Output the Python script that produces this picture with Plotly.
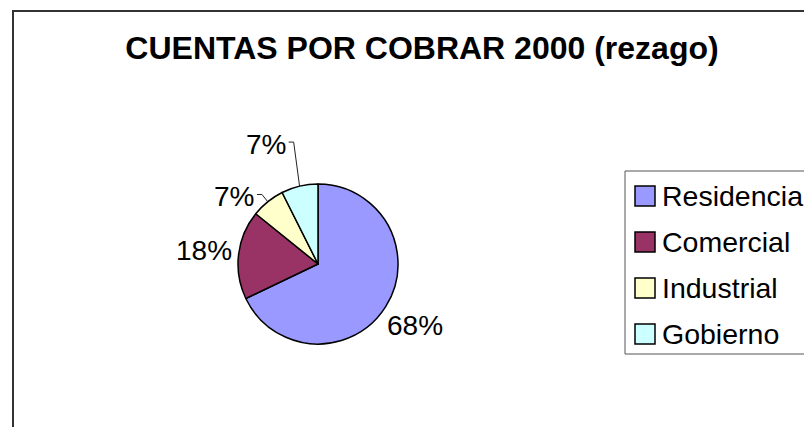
import numpy as np
import plotly.graph_objects as go

# ---- data ----
categories = ["Residencial", "Comercial", "Industrial", "Gobierno"]
values = [67.9, 17.9, 6.8, 7.4]
colors = ["#9999FF", "#993366", "#FFFFCC", "#CCFFFF"]
title_text = "CUENTAS POR COBRAR 2000 (rezago)"

# ---- layout constants (pixels) ----
W, H = 812, 427
CX, CY, R = 310, 256, 80
FONT = "Liberation Sans, Arial, sans-serif"


def px(x):
    return x / W


def py(y):
    return 1 - y / H


fig = go.Figure(
    go.Pie(
        labels=categories,
        values=values,
        sort=False,
        direction="clockwise",
        rotation=0,
        marker=dict(colors=colors, line=dict(color="black", width=1.5)),
        textinfo="none",
        hoverinfo="label+percent",
        showlegend=False,
        domain=dict(x=[px(CX - R), px(CX + R)], y=[py(CY + R), py(CY - R)]),
    )
)

# ---- percentage labels derived from the data ----
vals = np.array(values, dtype=float)
total = vals.sum()
mid = (np.cumsum(vals) - vals / 2) / total * 2 * np.pi
label_gap = 35
label_push = [(0, 0), (0, 0), (-12, 22), (-26, -8)]
label_fs = 28

annotations = []
shapes = []
for i, v in enumerate(vals):
    th = mid[i]
    ex, ey = CX + R * np.sin(th), CY - R * np.cos(th)
    lx = CX + (R + label_gap) * np.sin(th) + label_push[i][0]
    ly = CY - (R + label_gap) * np.cos(th) + label_push[i][1]
    txt = f"{int(round(v / total * 100))}%"
    annotations.append(dict(
        text=txt, x=px(lx), y=py(ly), xref="paper", yref="paper",
        xanchor="center", yanchor="middle", showarrow=False,
        font=dict(family=FONT, size=label_fs, color="black"),
    ))
    if label_push[i] != (0, 0):
        sx = lx + 0.72 * label_fs + 3
        path = (f"M {px(sx)},{py(ly - 2)} L {px(sx + 5)},{py(ly - 2)} "
                f"L {px(ex)},{py(ey)}")
        shapes.append(dict(type="path", path=path, xref="paper", yref="paper",
                           line=dict(color="#222222", width=1)))

# ---- chart border (only left/top visible in the crop) ----
shapes.append(dict(type="rect", xref="paper", yref="paper",
                   x0=px(5), x1=px(840), y0=py(450), y1=py(3),
                   line=dict(color="#333333", width=2)))

# ---- legend ----
leg_left, leg_top, leg_bottom = 617, 163, 346
rows = [188, 234, 280, 326]
shapes.append(dict(type="rect", xref="paper", yref="paper",
                   x0=px(leg_left), x1=px(840), y0=py(leg_bottom), y1=py(leg_top),
                   line=dict(color="#555555", width=1)))
for i, name in enumerate(categories):
    r = rows[i]
    shapes.append(dict(type="rect", xref="paper", yref="paper",
                       x0=px(627), x1=px(647), y0=py(r + 10), y1=py(r - 10),
                       fillcolor=colors[i], line=dict(color="black", width=1.5)))
    annotations.append(dict(
        text=name, x=px(652), y=py(r), xref="paper", yref="paper",
        xanchor="left", yanchor="middle", showarrow=False,
        font=dict(family=FONT, size=28.5, color="black"),
    ))

fig.update_layout(
    width=W, height=H,
    margin=dict(l=0, r=0, t=0, b=0, autoexpand=False),
    paper_bgcolor="white", plot_bgcolor="white",
    title=dict(text=f"<b>{title_text}</b>", x=px(414), xanchor="center",
               y=py(40), yanchor="middle",
               font=dict(family=FONT, size=32, color="black")),
    annotations=annotations,
    shapes=shapes,
    showlegend=False,
)

fig.write_html("out.html")
